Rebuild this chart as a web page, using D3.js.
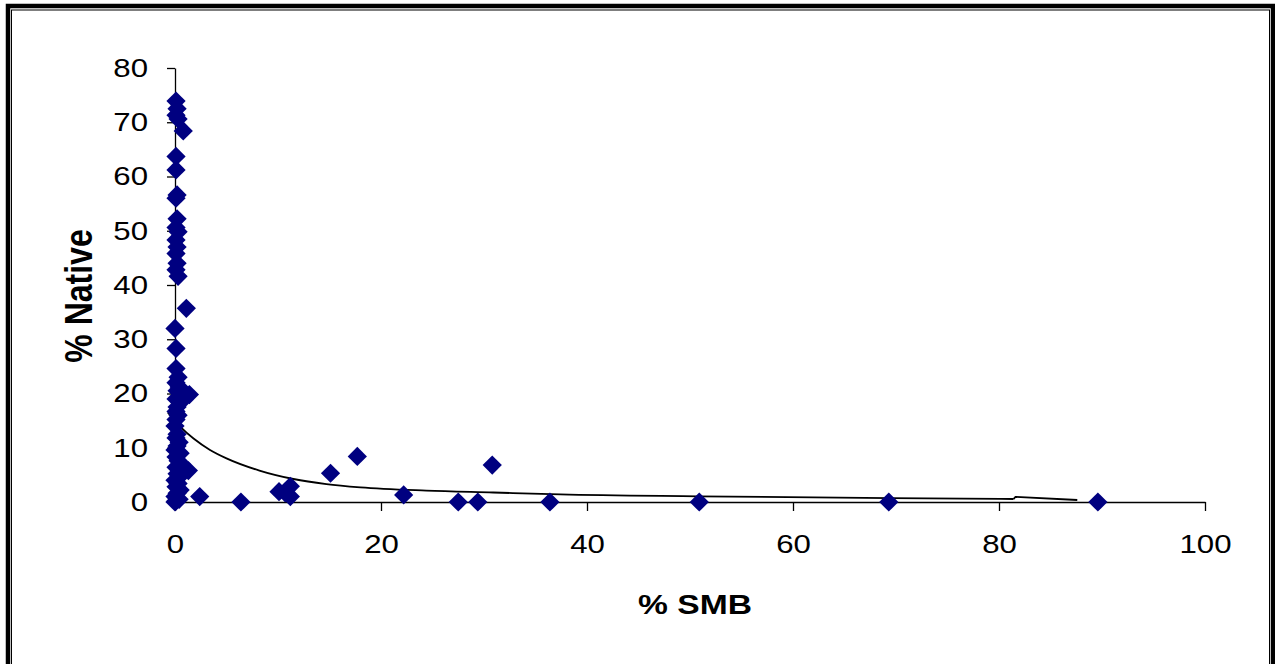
<!DOCTYPE html>
<html lang="en">
<head>
    <meta charset="utf-8">
    <title>% Native vs % SMB</title>
    <script src="https://d3js.org/d3.v7.min.js"></script>
    <style>
        body, html {
            margin: 0;
            padding: 0;
            background: #fff;
        }
        .axis path, .axis line {
            stroke: #000;
            stroke-width: 1.3;
        }
        .axis text {
            font-family: "Liberation Sans", Arial, sans-serif;
            font-size: 26px;
            fill: #000;
        }
        .title {
            font-family: "Liberation Sans", Arial, sans-serif;
            font-weight: bold;
            font-size: 28px;
            fill: #000;
        }
    </style>
</head>
<body>
<div id="chart"></div>

<script type="text/javascript">
    // Points near x = 0 (the dense column)
    var clusterX = [0.1, 0.2, 0.1, 0.3, 0.8, 0.1, 0.1, 0.2, 0.1, 0.2, 0.1, 0.3, 0.1, 0.2, 0.1, 0.2, 0.1, 0.3,
        1.1, 0.0, 0.1, 0.1, 0.3, 0.1, 0.4, 0.2, 1.4, 0.1, 0.5, 0.2, 0.1, 0.3, 0.1, 0.0,
        0.2, 0.1, 0.4, 0.2, 0.0, 0.5, 0.1, 0.3, 0.6, 0.1, 1.3, 0.2, 0.4, 0.0, 0.3, 0.1, 0.5, 0.2, 0.0, 0.4, 0.1, 0.0];
    var clusterY = [73.9, 72.5, 71.3, 70.6, 68.4, 63.7, 61.2, 56.6, 56.0, 52.2, 50.6, 49.8, 48.3, 47.0, 45.8, 44.0, 42.8, 41.6,
        35.7, 32.0, 28.3, 24.6, 23.0, 22.0, 21.2, 20.5, 19.8, 19.0, 18.3, 17.5, 16.7, 16.0, 15.2, 14.0,
        12.5, 11.8, 11.0, 10.3, 9.6, 9.0, 8.3, 7.6, 7.0, 6.4, 5.8, 5.2, 4.6, 4.0, 3.4, 2.8, 2.2, 1.6, 1.0, 0.5, 0.2, 0.0];

    // Points further along the x axis
    var spreadX = [2.4, 6.4, 10.1, 10.7, 11.2, 11.2, 15.1, 17.7, 22.2, 27.5, 29.4, 30.8, 36.4, 50.9, 69.3, 89.6];
    var spreadY = [1.0, 0.0, 1.9, 1.7, 2.9, 1.0, 5.3, 8.4, 1.3, 0.0, 0.0, 6.8, 0.0, 0.0, 0.0, 0.0];

    // Trend line
    var trendX = [-0.7, 0.5, 1.8, 3.4, 5.0, 8.2, 11.5, 14.7, 18.0, 24.4, 30.9, 37.4, 50.8, 69.4, 81.4, 81.6, 87.6];
    var trendY = [16.5, 13.9, 11.7, 9.6, 8.05, 5.8, 4.24, 3.3, 2.7, 2.1, 1.75, 1.4, 1.05, 0.7, 0.55, 0.95, 0.37];

    var xTicks = [0, 20, 40, 60, 80, 100];
    var yTicks = [0, 10, 20, 30, 40, 50, 60, 70, 80];

    var w = 1275;
    var h = 664;
    var stretch = 1.2; // text in the picture is a little wide

    var svg = d3.select("#chart")
        .append("svg")
        .attr("width", w)
        .attr("height", h);

    // double frame
    svg.append("rect")
        .attr("x", 8).attr("y", 6)
        .attr("width", w - 10).attr("height", h + 20)
        .attr("fill", "none").attr("stroke", "#000").attr("stroke-width", 4.5);
    svg.append("rect")
        .attr("x", 11.5).attr("y", 10)
        .attr("width", 1258).attr("height", h + 20)
        .attr("fill", "none").attr("stroke", "#000").attr("stroke-width", 1);

    var xScale = d3.scaleLinear()
        .domain([0, 100])
        .range([175, 1205]);

    var yScale = d3.scaleLinear()
        .domain([0, 80])
        .range([502, 68]);

    var xAxis = d3.axisBottom(xScale)
        .tickValues(xTicks)
        .tickSize(9)
        .tickSizeOuter(0);

    var yAxis = d3.axisLeft(yScale)
        .tickValues(yTicks)
        .tickSize(8)
        .tickSizeOuter(0);

    var gx = svg.append("g")
        .attr("class", "axis")
        .attr("transform", "translate(0," + yScale(0) + ")")
        .call(xAxis);
    gx.selectAll("text")
        .attr("y", 33)
        .attr("transform", "scale(" + stretch + ",1)")
        .attr("x", 0);

    var gy = svg.append("g")
        .attr("class", "axis")
        .attr("transform", "translate(" + xScale(0) + ",0)")
        .call(yAxis);
    gy.selectAll("text")
        .attr("x", -27 / stretch)
        .attr("transform", "scale(" + stretch + ",1)");

    // trend line
    var trend = trendX.map(function (x, i) { return [x, trendY[i]]; });
    var line = d3.line()
        .x(function (d) { return xScale(d[0]); })
        .y(function (d) { return yScale(d[1]); })
        .curve(d3.curveMonotoneX);
    svg.append("path")
        .datum(trend.slice(0, 15))
        .attr("d", line)
        .attr("fill", "none")
        .attr("stroke", "#000")
        .attr("stroke-width", 1.8);
    svg.append("path")
        .datum(trend.slice(14))
        .attr("d", d3.line()
            .x(function (d) { return xScale(d[0]); })
            .y(function (d) { return yScale(d[1]); }))
        .attr("fill", "none")
        .attr("stroke", "#000")
        .attr("stroke-width", 1.8);

    // markers
    var points = clusterX.map(function (x, i) { return {x: x, y: clusterY[i]}; })
        .concat(spreadX.map(function (x, i) { return {x: x, y: spreadY[i]}; }));

    var diamond = d3.symbol().type(d3.symbolSquare).size(185);

    svg.selectAll("path.pt")
        .data(points)
        .enter()
        .append("path")
        .attr("class", "pt")
        .attr("d", diamond)
        .attr("transform", function (d) {
            return "translate(" + xScale(d.x) + "," + yScale(d.y) + ") rotate(45)";
        })
        .attr("fill", "#000080");

    // axis titles
    svg.append("text")
        .attr("class", "title")
        .attr("text-anchor", "middle")
        .attr("transform", "translate(695,614) scale(" + stretch + ",1)")
        .text("% SMB");

    svg.append("text")
        .attr("class", "title")
        .attr("text-anchor", "middle")
        .style("font-size", "32px")
        .attr("transform", "translate(92,296) scale(" + stretch + ",1) rotate(-90)")
        .text("% Native");
</script>
</body>
</html>
